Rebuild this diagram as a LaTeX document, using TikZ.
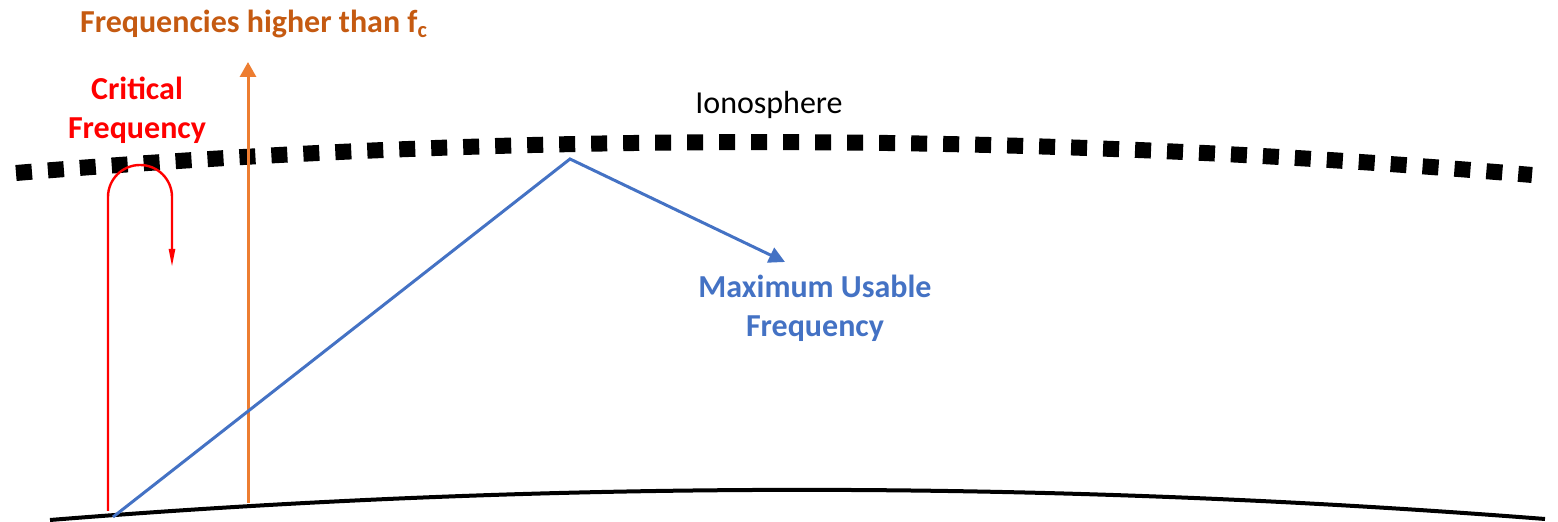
\documentclass[tikz,border=0pt]{standalone}
\usepackage{fontspec}
\setmainfont{Carlito}
\usetikzlibrary{arrows.meta}
\definecolor{critred}{HTML}{FF0000}
\definecolor{passorange}{HTML}{ED7D31}
\definecolor{titleorange}{HTML}{C55A11}
\definecolor{mufblue}{HTML}{4472C4}
\tikzset{
  label text/.style={font=\fontsize{16}{19.5}\selectfont\bfseries, align=center, inner sep=0pt},
  ionolayer/.style={line width=8pt, dash pattern=on 8pt off 8pt},
  groundline/.style={line width=2pt},
  critray/.style={critred, line width=1.2pt, -{Triangle[length=9pt,width=3pt]}},
  passray/.style={passorange, line width=1.5pt, -{Triangle[length=7.5pt,width=8pt]}},
  mufray/.style={mufblue, line width=1.5pt, -{Triangle[length=8pt,width=8pt]}}
}
\begin{document}
\begin{tikzpicture}[x=0.5pt,y=-0.5pt]
\useasboundingbox (0,0) rectangle (1558,522);

% earth surface and ionospheric layer
\draw[groundline] (50,520) .. controls (548,480) and (1046,480) .. (1545,519);
\draw[ionolayer] (16,173) .. controls (521,131) and (1027,132) .. (1532,175);

% ray endpoints
\coordinate (critbase) at (108,511);
\coordinate (critup) at (108,197);
\coordinate (passbase) at (248,503);
\coordinate (passtop) at (248,62);
\coordinate (mufbase) at (113,517);
\coordinate (mufpeak) at (570,159);
\coordinate (muftip) at (785,262);

% critical frequency: reflected straight back
\draw[critray] (critbase) -- (critup) arc[start angle=180, end angle=360, radius=32] -- ++(0,70);

% higher frequencies pass through the layer
\draw[passray] (passbase) -- (passtop);

% maximum usable frequency: oblique reflection
\draw[mufray] (mufbase) -- (mufpeak) -- (muftip);

% labels
\node[label text, text=titleorange] (title) at (254,24) {Frequencies higher than f\textsubscript{c}};
\node[label text, text=critred] (crit) at (137,110) {Critical\\Frequency};
\node[label text, text=mufblue] (muf) at (815,308) {Maximum Usable\\Frequency};
\node[font=\fontsize{16}{19.5}\selectfont, inner sep=0pt] (iono) at (769,105) {Ionosphere};
\end{tikzpicture}
\end{document}
